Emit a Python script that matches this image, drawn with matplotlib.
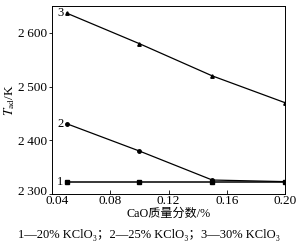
import matplotlib
matplotlib.use('Agg')
import matplotlib.pyplot as plt
from matplotlib.transforms import ScaledTranslation

plt.rcParams['font.family'] = ['Liberation Serif', 'Noto Sans CJK SC', 'DejaVu Serif']
plt.rcParams['mathtext.fontset'] = 'stix'

# data
cao = [0.05, 0.10, 0.15, 0.20]
t_20 = [2323, 2323, 2323, 2323]
t_25 = [2431, 2380, 2326, 2323]
t_30 = [2637, 2580, 2520, 2470]
series_labels = ['1', '2', '3']
xticks = [0.04, 0.08, 0.12, 0.16, 0.20]
yticks = [2300, 2400, 2500, 2600]
ytick_labels = ['2\u2009300', '2\u2009400', '2\u2009500', '2\u2009600']

fig = plt.figure(figsize=(2.97, 2.44), dpi=100)
ax = fig.add_axes([0.175, 0.205, 0.785, 0.77])

ax.plot(cao, t_20, 'k-', marker='s', ms=3.2, lw=1.1)
ax.plot(cao, t_25, 'k-', marker='o', ms=2.5, lw=0.9)
ax.plot(cao, t_30, 'k-', marker='^', ms=2.5, lw=0.9)

for lab, ys in zip(series_labels, [t_20, t_25, t_30]):
    ax.text(cao[0] - 0.002, ys[0], lab, ha='right', va='center', fontsize=9)

ax.set_xlim(0.04, 0.20)
ax.set_ylim(2300, 2650)
ax.set_xticks(xticks)
ax.set_xticklabels([f'{v:.2f}' for v in xticks])
ax.set_yticks(yticks)
ax.set_yticklabels(ytick_labels)
ax.tick_params(axis='x', direction='in', length=3, width=0.6, labelsize=9.5, pad=1)
ax.tick_params(axis='y', direction='out', length=2.5, width=0.6, labelsize=9.5, pad=1)
for sp in ax.spines.values():
    sp.set_linewidth(0.7)

# nudge the corner labels apart like the original
lbl = ax.get_xticklabels()[0]
lbl.set_transform(lbl.get_transform() + ScaledTranslation(5 / 100, 0, fig.dpi_scale_trans))
lbl = ax.get_yticklabels()[0]
lbl.set_transform(lbl.get_transform() + ScaledTranslation(0, 3 / 100, fig.dpi_scale_trans))

ax.set_xlabel('CaO质量分数/%', fontsize=8.7, labelpad=0)
ax.set_ylabel(r'$T_{\mathrm{ad}}$/K', fontsize=9.5, labelpad=1)

fig.text(0.5, 0.035, '1—20% KClO₃；2—25% KClO₃；3—30% KClO₃',
         ha='center', va='center', fontsize=9)

fig.savefig('out.png', dpi=100)
